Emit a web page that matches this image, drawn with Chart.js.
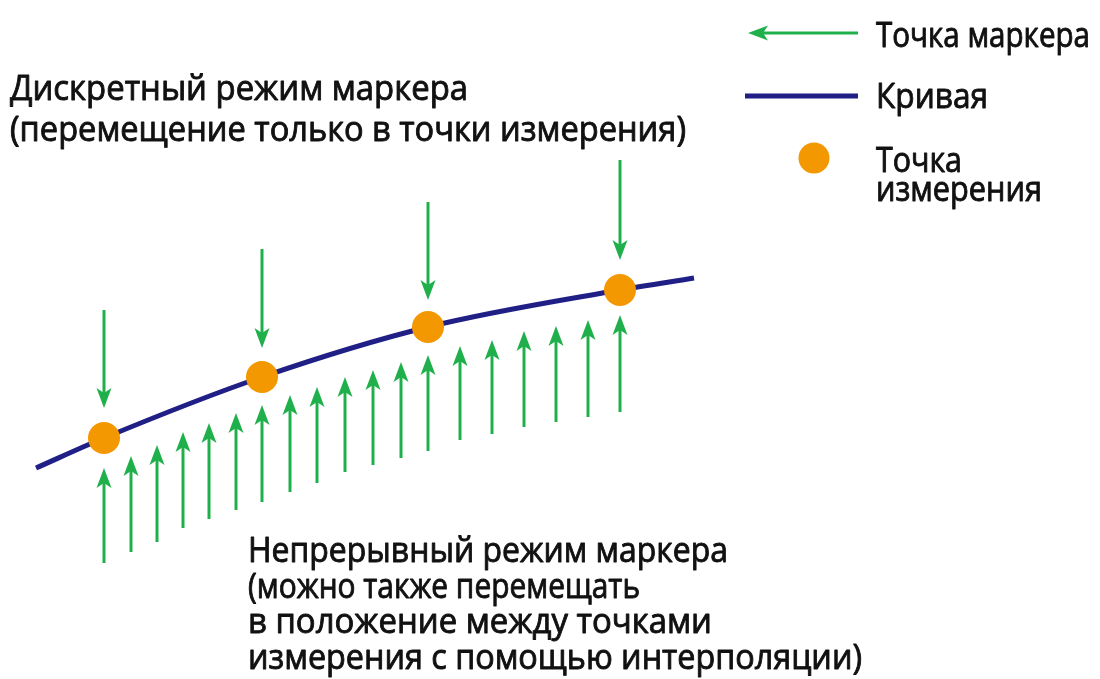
<!DOCTYPE html>
<html lang="ru">
<head>
<meta charset="utf-8">
<title>Режимы маркера</title>
<script src="https://cdn.jsdelivr.net/npm/chart.js@4.4.1/dist/chart.umd.min.js"></script>
<style>
  html, body { margin: 0; padding: 0; background: #fff; }
  #wrap { width: 1100px; height: 679px; position: relative; }
</style>
</head>
<body>
<div id="wrap"><canvas id="markerChart" width="1100" height="679"></canvas></div>
<script>
/* Marker modes diagram — discrete vs continuous */

// ── Data (diagram units, y grows downward) ────────────────────────────────

const curveX = [36, 104, 262, 428, 620, 694];
const curveY = [468, 438, 377, 327, 290, 278];

const measX = [104, 262, 428, 620];
const measY = [438, 377, 327, 290];

// discrete mode: arrows from above, only at measurement points
const discTail = [310, 249, 202, 160];
const discTip  = [408, 348, 300, 260];

// continuous mode: arrows from below, also between the points
const contX    = [104, 131, 157, 183, 209, 236, 262, 290, 317, 345, 373, 401, 428, 460, 492, 524, 556, 588, 620];
const contTip  = [468, 456, 445, 432, 423, 413, 405, 395, 387, 377, 370, 362, 355, 346, 340, 331, 326, 320, 315];
const contTail = [563, 552, 542, 528, 519, 510, 502, 492, 483, 472, 465, 458, 451, 440, 434, 427, 422, 417, 412];

const legendLabels = ['Точка маркера', 'Кривая', ['Точка', 'измерения']];
const discLabel = ['Дискретный режим маркера', '(перемещение только в точки измерения)'];
const contLabel = [
  'Непрерывный режим маркера',
  '(можно также перемещать',
  'в положение между точками',
  'измерения с помощью интерполяции)'
];

// ── Styles ────────────────────────────────────────────────────────────────

const GREEN  = '#20b04b';
const NAVY   = '#1f1f86';
const ORANGE = '#f39800';
const TEXT   = '#111111';
const FONT   = "'Open Sans', 'Noto Sans', sans-serif";

// ── Helpers ───────────────────────────────────────────────────────────────

const drawArrow = (ctx, x1, y1, x2, y2) => {
  const ang = Math.atan2(y2 - y1, x2 - x1);
  const len = 20, half = 7.5, notch = 5;
  const bx = x2 - Math.cos(ang) * (len - notch);
  const by = y2 - Math.sin(ang) * (len - notch);
  ctx.strokeStyle = GREEN;
  ctx.fillStyle = GREEN;
  ctx.lineWidth = 3;
  ctx.beginPath();
  ctx.moveTo(x1, y1);
  ctx.lineTo(bx, by);
  ctx.stroke();
  const px = -Math.sin(ang), py = Math.cos(ang);
  const ex = x2 - Math.cos(ang) * len, ey = y2 - Math.sin(ang) * len;
  ctx.beginPath();
  ctx.moveTo(x2, y2);
  ctx.lineTo(ex + px * half, ey + py * half);
  ctx.lineTo(bx, by);
  ctx.lineTo(ex - px * half, ey - py * half);
  ctx.closePath();
  ctx.fill();
};

// text a bit heavier than the regular face, like the original
const drawLines = (ctx, lines, x, y0, step, widths) => {
  ctx.fillStyle = TEXT;
  ctx.strokeStyle = TEXT;
  ctx.lineWidth = 0.9;
  ctx.lineJoin = 'round';
  ctx.font = `34px ${FONT}`;
  ctx.textBaseline = 'alphabetic';
  ctx.textAlign = 'left';
  lines.forEach((t, i) => {
    ctx.fillText(t, x, y0 + i * step, widths[i]);
    ctx.strokeText(t, x, y0 + i * step, widths[i]);
  });
};

// ── Plugin: arrows, legend keys and captions ──────────────────────────────

const diagramPlugin = {
  id: 'diagram',
  afterDatasetsDraw(chart) {
    const { ctx, scales: { x, y } } = chart;
    ctx.save();

    measX.forEach((v, i) =>
      drawArrow(ctx, x.getPixelForValue(v), y.getPixelForValue(discTail[i]),
                     x.getPixelForValue(v), y.getPixelForValue(discTip[i])));
    contX.forEach((v, i) =>
      drawArrow(ctx, x.getPixelForValue(v), y.getPixelForValue(contTail[i]),
                     x.getPixelForValue(v), y.getPixelForValue(contTip[i])));

    // legend keys
    drawArrow(ctx, 858, 33, 748, 33);
    ctx.strokeStyle = NAVY;
    ctx.lineWidth = 5;
    ctx.beginPath();
    ctx.moveTo(745, 96);
    ctx.lineTo(858, 96);
    ctx.stroke();
    ctx.fillStyle = ORANGE;
    ctx.beginPath();
    ctx.arc(814, 158, 15.5, 0, Math.PI * 2);
    ctx.fill();

    drawLines(ctx, [legendLabels[0]], 876, 47, 0, [214]);
    drawLines(ctx, [legendLabels[1]], 876, 108, 0, [112]);
    drawLines(ctx, legendLabels[2], 876, 172, 29, [86, 166]);

    drawLines(ctx, discLabel, 10, 100, 41, [458, 676]);
    drawLines(ctx, contLabel, 248, 562, 35.5, [480, 392, 464, 614]);

    ctx.restore();
  }
};

// ── Chart ─────────────────────────────────────────────────────────────────

const ctx = document.getElementById('markerChart').getContext('2d');
new Chart(ctx, {
  type: 'scatter',
  data: {
    datasets: [
      {
        label: 'Точка измерения',
        data: measX.map((v, i) => ({ x: v, y: measY[i] })),
        backgroundColor: ORANGE,
        borderWidth: 0,
        pointRadius: 16,
        order: 0
      },
      {
        label: 'Кривая',
        data: curveX.map((v, i) => ({ x: v, y: curveY[i] })),
        showLine: true,
        borderColor: NAVY,
        borderWidth: 5,
        borderCapStyle: 'butt',
        cubicInterpolationMode: 'monotone',
        pointRadius: 0,
        order: 1
      }
    ]
  },
  options: {
    responsive: false,
    animation: false,
    devicePixelRatio: 1,
    layout: { padding: 0, autoPadding: false },
    plugins: {
      legend: { display: false },
      tooltip: { enabled: false }
    },
    scales: {
      x: { type: 'linear', min: 0, max: 1100, display: false },
      y: { type: 'linear', min: 0, max: 679, reverse: true, display: false }
    }
  },
  plugins: [diagramPlugin]
});
</script>
</body>
</html>
